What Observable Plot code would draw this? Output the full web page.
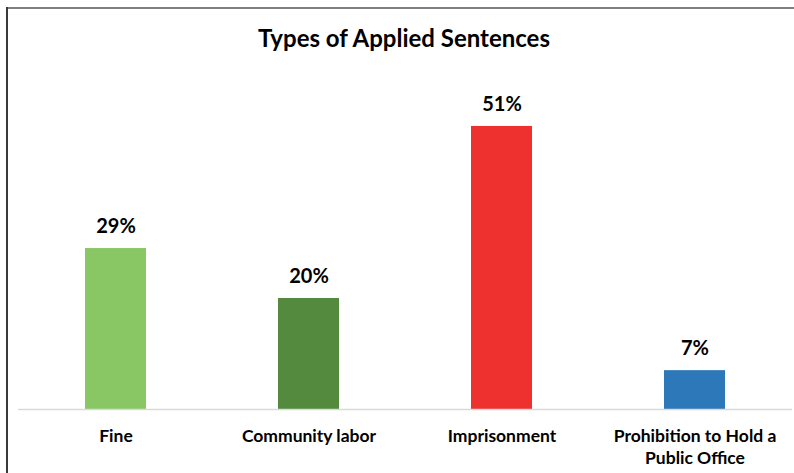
<!DOCTYPE html>
<html>
<head>
<meta charset="utf-8">
<script src="https://cdn.jsdelivr.net/npm/d3@7"></script>
<script src="https://cdn.jsdelivr.net/npm/@observablehq/plot@0.6"></script>
<style>
  html, body { margin: 0; padding: 0; background: #fff; }
  #wrap { position: relative; width: 794px; height: 473px; overflow: hidden; font-family: Lato, "Noto Sans", sans-serif; }
  #borderTop { position: absolute; left: 6px; top: 7px; width: 788px; height: 2px; background: #7f7f7f; }
  #borderLeft { position: absolute; left: 6px; top: 7px; width: 2px; height: 466px; background: #3a3a3a; }
  #title { position: absolute; left: 7px; width: 794px; top: 23px; text-align: center; font-weight: 700; font-size: 24px; line-height: 30px; color: #000; }
  #chart { position: absolute; left: 0; top: 60px; }
</style>
</head>
<body>
<div id="wrap">
  <div id="borderTop"></div>
  <div id="borderLeft"></div>
  <div id="title">Types of Applied Sentences</div>
  <div id="chart"></div>
</div>
<script>
const categories = ["Fine", "Community labor", "Imprisonment", "Prohibition to Hold a Public Office"];
const tickLabels = ["Fine", "Community labor", "Imprisonment", "Prohibition to Hold a\nPublic Office"];
const values = [29, 20, 51, 7];
const colors = ["#88C764", "#538A3E", "#EE302F", "#2D78B9"];

const data = categories.map((c, i) => ({category: c, value: values[i], color: colors[i], label: values[i] + "%"}));

const chart = Plot.plot({
  width: 794,
  height: 413,
  marginLeft: 18,
  marginRight: 2,
  marginTop: 16,
  marginBottom: 64,
  style: {fontFamily: "Lato, 'Noto Sans', sans-serif", background: "transparent"},
  x: {domain: categories, paddingInner: 0.684, paddingOuter: 0.342, align: 0.5, label: null},
  y: {domain: [0, 60], axis: null},
  marks: [
    Plot.barY(data, {x: "category", y: "value", fill: "color"}),
    Plot.ruleY([0], {stroke: "#d9d9d9", strokeWidth: 1.5}),
    Plot.text(data, {x: "category", y: "value", text: "label", dy: -22, fontSize: 20, fontWeight: "bold", fill: "#000"}),
    Plot.axisX({
      tickSize: 0,
      tickPadding: 17,
      fontSize: 17.5,
      fontWeight: "bold",
      fill: "#000",
      lineHeight: 1.26,
      label: null,
      tickFormat: d => tickLabels[categories.indexOf(d)]
    })
  ]
});
document.getElementById("chart").appendChild(chart);
</script>
</body>
</html>
